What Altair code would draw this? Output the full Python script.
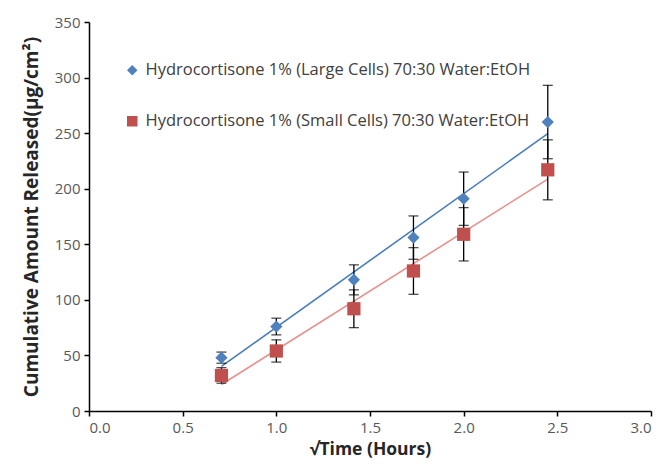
import altair as alt
import pandas as pd

series = ["Hydrocortisone 1% (Large Cells) 70:30 Water:EtOH",
          "Hydrocortisone 1% (Small Cells) 70:30 Water:EtOH"]
sqrt_time = [0.707, 1.0, 1.414, 1.732, 2.0, 2.449]
large_mean = [48, 76, 118, 156, 191, 260]
large_err = [5, 7.5, 13.5, 19.5, 24, 33]
small_mean = [32, 54, 92, 126, 159, 217]
small_err = [7, 10, 17, 21, 24, 27]
point_colors = ["#4F81BD", "#C0504D"]
trend_colors = ["#4A7EBB", "#E8908E"]

rows = []
for s, means, errs in [(series[0], large_mean, large_err), (series[1], small_mean, small_err)]:
    for x, m, e in zip(sqrt_time, means, errs):
        rows.append({"series": s, "x": x, "y": m, "lo": m - e, "hi": m + e})
df = pd.DataFrame(rows)

base = alt.Chart(df)

xscale = alt.Scale(domain=[0, 3], nice=False, zero=False)
yscale = alt.Scale(domain=[0, 350], nice=False)

xaxis = alt.Axis(title="√Time (Hours)", values=[0, 0.5, 1, 1.5, 2, 2.5, 3], format=".1f",
                 grid=False, labelPadding=4, titlePadding=5, titleFontSize=17.5)
yaxis = alt.Axis(title="Cumulative Amount Released(μg/cm²)", values=list(range(0, 351, 50)),
                 grid=False, titlePadding=13, labelPadding=4, titleFontSize=19)

trend_layers = []
for s, c in zip(series, trend_colors):
    trend_layers.append(
        base.transform_filter(alt.datum.series == s)
        .transform_regression("x", "y", extent=[0.707, 2.449])
        .mark_line(strokeWidth=1.6, color=c)
        .encode(x=alt.X("x:Q", scale=xscale, axis=xaxis),
                y=alt.Y("y:Q", scale=yscale, axis=yaxis))
    )

errs = base.mark_errorbar(ticks={"size": 10}, color="black", thickness=1.3).encode(
    x=alt.X("x:Q", scale=xscale, axis=xaxis),
    y=alt.Y("lo:Q", scale=yscale, axis=yaxis),
    y2="hi:Q",
)

legend = alt.Legend(title=None, orient="none", legendX=35, legendY=40,
                    rowPadding=34, labelFontSize=16.5, labelColor="#404040",
                    labelFont="Open Sans", symbolSize=110, labelLimit=600, labelOffset=5,
                    padding=0, symbolOpacity=1)

points = base.mark_point(filled=True, opacity=1).encode(
    x=alt.X("x:Q", scale=xscale, axis=xaxis),
    y=alt.Y("y:Q", scale=yscale, axis=yaxis),
    color=alt.Color("series:N", scale=alt.Scale(domain=series, range=point_colors),
                    legend=legend),
    shape=alt.Shape("series:N", scale=alt.Scale(domain=series, range=["diamond", "square"]),
                    legend=legend),
    size=alt.condition("datum.series == '%s'" % series[0], alt.value(150), alt.value(175)),
)

chart = alt.layer(*trend_layers, errs, points).properties(
    width=562, height=389,
    autosize=alt.AutoSizeParams(type="none"),
    padding={"left": 81, "top": 14, "right": 3, "bottom": 50},
).configure_view(stroke=None).configure_axis(
    domainColor="black", domainWidth=1.5, tickColor="black", tickWidth=1.5, tickSize=5,
    labelFont="Open Sans", labelFontSize=15, labelColor="#595959",
    titleFont="Open Sans", titleFontWeight="bold", titleColor="#262626",
)

chart.save("out.html", embed_options={"renderer": "svg", "actions": False})
